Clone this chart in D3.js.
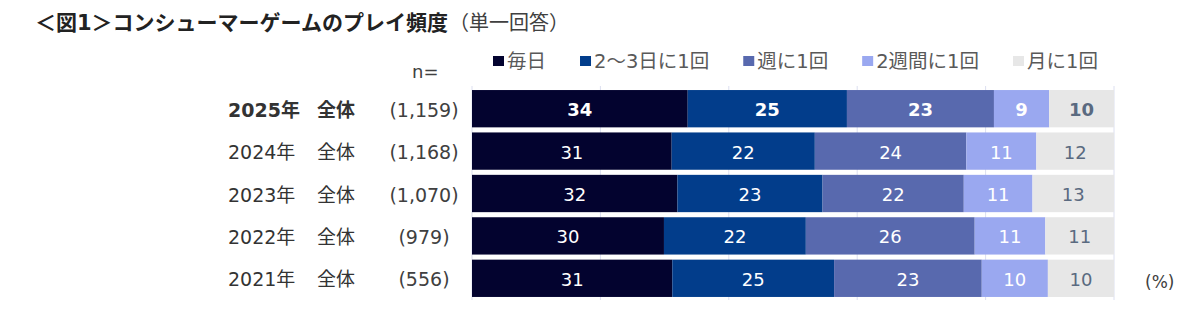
<!DOCTYPE html>
<html>
<head>
<meta charset="utf-8">
<script src="https://cdn.jsdelivr.net/npm/d3@7.9.0/dist/d3.min.js"></script>
<style>
  html, body { margin: 0; padding: 0; background: #fff; }
  svg { display: block; font-family: "DejaVu Sans", "Noto Sans CJK JP", sans-serif; }
</style>
</head>
<body>
<svg id="chart"></svg>
<script>
const width = 1200;
const height = 315;

// Data
const years = ["2025年", "2024年", "2023年", "2022年", "2021年"];
const groupLabel = "全体";
const sampleSizes = ["(1,159)", "(1,168)", "(1,070)", "(979)", "(556)"];
const categories = ["毎日", "2～3日に1回", "週に1回", "2週間に1回", "月に1回"];
const daily    = [33.6, 31.1, 32.0, 29.9, 31.2];
const twoThree = [24.8, 22.3, 22.6, 22.1, 25.2];
const weekly   = [22.9, 23.6, 22.0, 26.3, 23.0];
const biweekly = [8.6, 10.9, 10.7, 11.0, 10.3];
const monthly  = [10.1, 12.1, 12.7, 10.7, 10.3];
const gridTicks = [0, 20, 40, 60, 80, 100];

const colors = ["#03032f", "#023d8b", "#5869ae", "#9aa8f0", "#e7e7e7"];
const labelColors = ["#fff", "#fff", "#fff", "#fff", "#5a6a80"];

const seriesValues = [daily, twoThree, weekly, biweekly, monthly];
const rows = years.map((y, i) => {
    const r = { year: y };
    categories.forEach((c, j) => r[c] = seriesValues[j][i]);
    return r;
});

const svg = d3.select("#chart").attr("width", width).attr("height", height);

const x = d3.scaleLinear().domain([0, 100]).range([472, 1114]);
const y = d3.scaleBand().domain(years).range([87.5, 299.5]).paddingInner(0.12).paddingOuter(0.06);

// title
const title = svg.append("text")
    .attr("x", 35).attr("y", 23)
    .attr("dominant-baseline", "central")
    .style("font-size", "21px")
    .style("fill", "#222");
title.append("tspan").style("font-weight", "bold").text("＜図1＞コンシューマーゲームのプレイ頻度");
title.append("tspan").attr("dx", 1).style("font-size", "20px").style("fill", "#404040").text("（単一回答）");

// legend
let lx = 493;
categories.forEach((c, i) => {
    svg.append("rect")
        .attr("x", lx).attr("y", 56).attr("width", 11).attr("height", 10)
        .attr("fill", colors[i]);
    const t = svg.append("text")
        .attr("x", lx + 14).attr("y", 61)
        .attr("dominant-baseline", "central")
        .style("font-size", "19.5px")
        .style("fill", "#595959")
        .text(c);
    lx += 14 + t.node().getComputedTextLength() + 34;
});

svg.append("text")
    .attr("x", 412).attr("y", 71)
    .attr("dominant-baseline", "central")
    .style("font-size", "18px").style("fill", "#404040")
    .text("n=");

// gridlines
svg.append("g").selectAll("line").data(gridTicks).join("line")
    .attr("x1", d => x(d)).attr("x2", d => x(d))
    .attr("y1", 86).attr("y2", 300)
    .attr("stroke", "#dcdff0").attr("stroke-width", 1);

// bars
const stacked = d3.stack().keys(categories)(rows);

const layers = svg.append("g").selectAll("g").data(stacked).join("g")
    .attr("fill", (d, i) => colors[i]);

layers.selectAll("rect").data(d => d).join("rect")
    .attr("x", d => x(d[0]))
    .attr("y", d => y(d.data.year))
    .attr("width", d => x(d[1]) - x(d[0]))
    .attr("height", y.bandwidth());

layers.each(function(layer, i) {
    d3.select(this).selectAll("text").data(layer).join("text")
        .attr("x", d => (x(d[0]) + x(d[1])) / 2)
        .attr("y", d => y(d.data.year) + y.bandwidth() / 2 + 1)
        .attr("text-anchor", "middle")
        .attr("dominant-baseline", "central")
        .style("font-size", "18px")
        .style("font-weight", d => d.data.year === years[0] ? "bold" : "normal")
        .style("fill", labelColors[i])
        .text(d => d3.format(".0f")(d[1] - d[0]));
});

// row labels
const rowLabels = svg.append("g").selectAll("g").data(years).join("g")
    .attr("transform", d => `translate(0, ${y(d) + y.bandwidth() / 2 + 1})`)
    .style("font-size", "19px")
    .style("fill", "#333")
    .style("font-weight", (d, i) => i === 0 ? "bold" : "normal");

rowLabels.append("text").attr("x", 228).attr("dominant-baseline", "central").text(d => d);
rowLabels.append("text").attr("x", 317).attr("dominant-baseline", "central").text(groupLabel);
rowLabels.append("text").attr("x", 424).attr("text-anchor", "middle")
    .attr("dominant-baseline", "central")
    .style("font-weight", "normal").style("fill", "#404040")
    .text((d, i) => sampleSizes[i]);

svg.append("text")
    .attr("x", 1145).attr("y", 282)
    .attr("dominant-baseline", "central")
    .style("font-size", "17px").style("fill", "#404040")
    .text("(%)");
</script>
</body>
</html>
